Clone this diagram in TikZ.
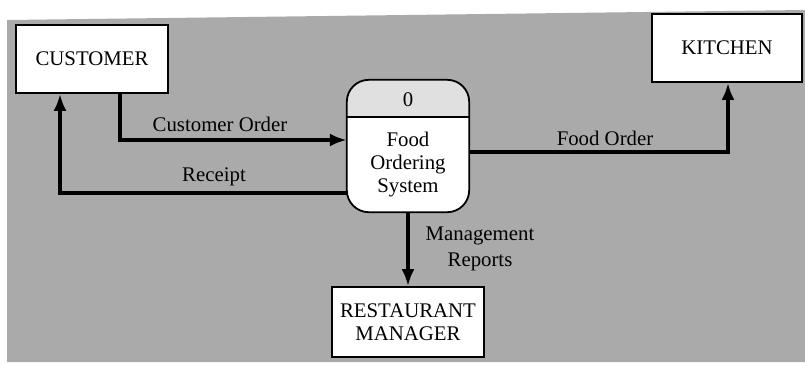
\documentclass[tikz,border=0pt]{standalone}
\usepackage{fontspec}
\setmainfont{Liberation Serif}
\usetikzlibrary{arrows.meta}
\definecolor{paper}{RGB}{170,170,170}
\definecolor{capfill}{RGB}{224,224,224}
\begin{document}
\begin{tikzpicture}[x=1pt,y=-1pt,
  every node/.style={font=\fontsize{20.8}{23}\selectfont},
  entity/.style={draw, line width=1.8pt, fill=white, minimum width=152pt,
    minimum height=68pt, align=center, inner sep=0pt},
  flow/.style={line width=3.4pt, -{Latex[length=17pt,width=13pt]}},
  flowlabel/.style={inner sep=1pt, align=center}]
\useasboundingbox (0,0) rectangle (805,365);
\fill[white] (0,0) rectangle (805,365);
\fill[paper] (7,20) -- (805,10) -- (805,362) -- (7,362) -- cycle;

% external entities
\node[entity] (cust) at (92,59) {CUSTOMER};
\node[entity, minimum width=150pt] (kit) at (727,48) {KITCHEN};
\node[entity, minimum height=70pt] (mgr) at (408,322) {RESTAURANT\\MANAGER};

% process 0
\node[fill=white, rounded corners=22pt, minimum width=122pt,
  minimum height=132pt, inner sep=0pt] (proc) at (408,146) {};
\coordinate (div) at (408,117);
\begin{scope}
  \clip (proc.north west) rectangle (proc.east |- div);
  \fill[capfill, rounded corners=22pt] (proc.south west) rectangle (proc.north east);
\end{scope}
\draw[line width=1.8pt, rounded corners=22pt] (proc.south west) rectangle (proc.north east);
\draw[line width=1.3pt] (proc.west |- div) -- (proc.east |- div);
\node (pid) at (408,100) {0};
\node[align=center] (pname) at (408,165) {Food\\Ordering\\System};

% data flows
\coordinate (co) at (120,140);
\draw[flow] (cust.south -| co) -- (co) -- (proc.west |- co);
\node[flowlabel] (colbl) at (220,124) {Customer Order};

\coordinate (rc) at (60,193);
\draw[flow] (proc.west |- rc) -- (rc) -- (cust.south -| rc);
\node[flowlabel] (rclbl) at (214,177) {Receipt};

\coordinate (fo) at (728,152);
\draw[flow] (proc.east |- fo) -- (fo) -- (kit.south -| fo);
\node[flowlabel] (folbl) at (605,138) {Food Order};

\draw[flow] (proc.south) -- (mgr.north);
\node[flowlabel] (mrlbl) at (480,249) {Management\\[3pt]Reports};
\end{tikzpicture}
\end{document}
